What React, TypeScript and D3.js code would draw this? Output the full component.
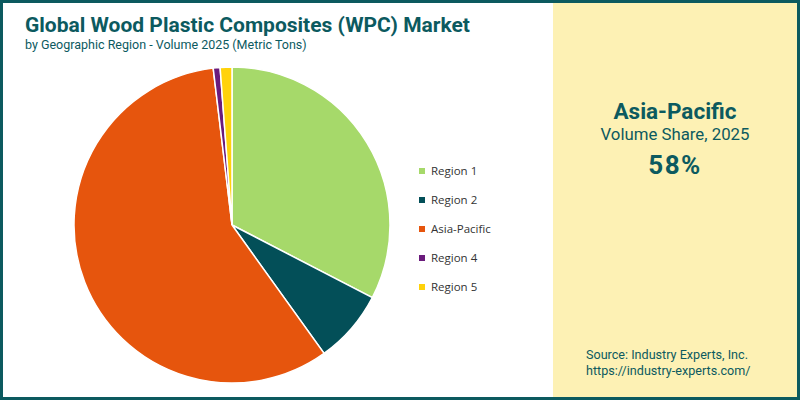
import React, { useEffect, useRef } from "react";
import * as d3 from "d3";

const regions = ["Region 1", "Region 2", "Asia-Pacific", "Region 4", "Region 5"];
const shares = [32.6, 7.5, 58.0, 0.7, 1.2];
const colors = ["#a6d96a", "#034f58", "#e6550d", "#6a1b7c", "#ffd20a"];

const W = 800;
const H = 400;
const teal = "#0c5a5f";

const App = () => {
  const ref = useRef<SVGSVGElement>(null);

  useEffect(() => {
    const svg = d3.select(ref.current);
    svg.selectAll("*").remove();

    // backgrounds
    svg.append("rect").attr("width", W).attr("height", H).attr("fill", "#ffffff");
    svg.append("rect").attr("x", 553).attr("y", 0).attr("width", W - 553).attr("height", H).attr("fill", "#fdf1b4");

    // title
    svg.append("text")
      .attr("x", 25).attr("y", 32)
      .attr("font-family", "Roboto").attr("font-weight", 700).attr("font-size", 21)
      .attr("fill", teal)
      .text("Global Wood Plastic Composites (WPC) Market");
    svg.append("text")
      .attr("x", 25).attr("y", 49)
      .attr("font-family", "Roboto").attr("font-size", 12.5)
      .attr("fill", teal)
      .text("by Geographic Region - Volume 2025 (Metric Tons)");

    // pie
    const pie = d3.pie<number>().sort(null).value(d => d);
    const arc = d3.arc<d3.PieArcDatum<number>>().innerRadius(0).outerRadius(158);
    const g = svg.append("g").attr("transform", "translate(232,225)");
    g.selectAll("path")
      .data(pie(shares))
      .join("path")
      .attr("d", arc)
      .attr("fill", (d, i) => colors[i])
      .attr("stroke", "#ffffff")
      .attr("stroke-width", 1.5);

    // legend
    const y = d3.scalePoint<string>().domain(regions).range([171, 287]);
    const leg = svg.append("g");
    regions.forEach((r, i) => {
      leg.append("rect")
        .attr("x", 419).attr("y", y(r)! - 3)
        .attr("width", 6).attr("height", 6)
        .attr("fill", colors[i]);
      leg.append("text")
        .attr("x", 431).attr("y", y(r)! + 4)
        .attr("font-family", "Open Sans").attr("font-size", 11.5)
        .attr("fill", "#333333")
        .text(r);
    });

    // highlight panel
    const cx = 675;
    svg.append("text")
      .attr("x", cx).attr("y", 119).attr("text-anchor", "middle")
      .attr("font-family", "Roboto").attr("font-weight", 700).attr("font-size", 22.5)
      .attr("fill", teal).text(regions[2]);
    svg.append("text")
      .attr("x", cx).attr("y", 140).attr("text-anchor", "middle")
      .attr("font-family", "Roboto").attr("font-size", 16.8)
      .attr("fill", teal).text("Volume Share, 2025");
    svg.append("text")
      .attr("x", cx).attr("y", 174).attr("text-anchor", "middle")
      .attr("font-family", "Roboto").attr("font-weight", 700).attr("font-size", 26)
      .attr("letter-spacing", 1.5)
      .attr("fill", teal).text(`${Math.round(shares[2])}%`);

    svg.append("text")
      .attr("x", 586).attr("y", 359)
      .attr("font-family", "Roboto").attr("font-size", 12.6)
      .attr("fill", teal).text("Source: Industry Experts, Inc.");
    svg.append("text")
      .attr("x", 586).attr("y", 375)
      .attr("font-family", "Roboto").attr("font-size", 12.6)
      .attr("fill", teal).text("https://industry-experts.com/");

    // frame
    svg.append("rect")
      .attr("x", 1.5).attr("y", 1.5).attr("width", W - 3).attr("height", H - 3)
      .attr("fill", "none").attr("stroke", teal).attr("stroke-width", 3);
  }, []);

  return (
    <svg ref={ref} width={W} height={H} style={{ position: "absolute", left: 0, top: 0 }} />
  );
};

export default App;
